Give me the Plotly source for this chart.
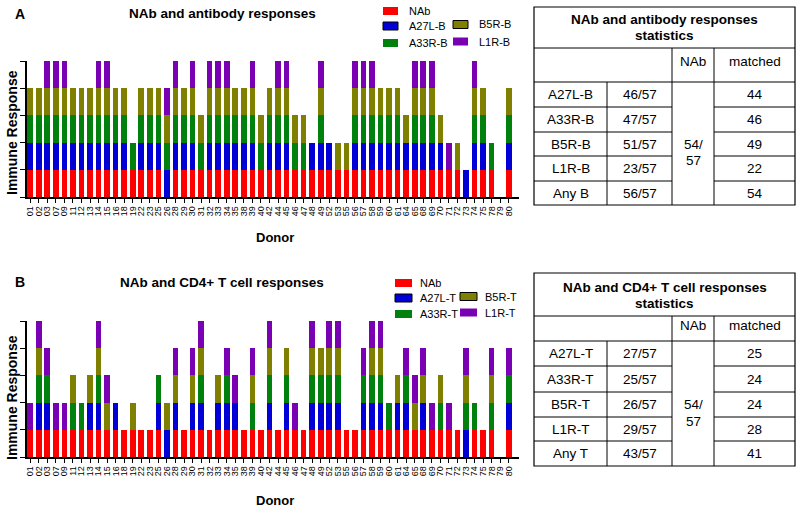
import plotly.graph_objects as go

# ---------------- data ----------------
donors = ["01","02","03","07","09","11","12","13","14","15","16","18","19","22","23","25","26","28","29","30",
          "31","32","33","34","35","38","39","40","42","44","45","46","47","48","49","52","53","55","56","57",
          "58","59","60","61","64","65","68","69","70","71","72","73","74","75","78","79","80"]

# Panel A: NAb and antibody responses (1 = response present)
a_nab  = [1,1,1,1,1,1,1,1,1,1,1,1,1,1,1,1,0,1,1,1,1,1,1,1,1,1,1,1,1,1,1,1,1,1,1,1,1,1,1,1,1,1,1,1,1,1,1,1,1,1,1,0,1,1,1,0,1]
a_a27l = [1,1,1,1,1,1,1,1,1,1,1,1,0,1,1,1,1,1,1,1,0,1,1,1,1,1,1,0,1,1,1,0,0,1,1,1,0,0,1,1,1,1,1,1,1,1,1,1,1,0,0,1,1,1,0,0,1]
a_a33r = [1,1,1,1,1,1,1,1,1,1,1,1,1,1,1,1,1,1,1,1,1,1,1,1,1,1,1,1,1,1,1,1,1,0,1,0,0,0,1,1,1,1,1,1,0,1,1,1,0,0,0,0,1,1,1,0,1]
a_b5r  = [1,1,1,1,1,1,1,1,1,1,1,1,0,1,1,1,1,1,1,1,1,1,1,1,1,1,1,1,1,1,1,1,1,0,1,0,1,1,1,1,1,1,1,1,1,1,1,1,1,0,1,0,1,1,0,0,1]
a_l1r  = [0,0,1,1,1,0,0,0,1,1,0,0,0,0,0,0,1,1,0,1,0,1,1,1,0,0,1,0,0,1,1,0,0,0,1,0,0,0,1,1,1,0,0,0,0,1,1,1,0,1,0,0,1,0,0,0,0]

# Panel B: NAb and CD4+ T cell responses
b_nab  = [1,1,1,1,1,1,1,1,1,1,1,1,1,1,1,1,0,1,1,1,1,1,1,1,1,1,1,1,1,1,1,1,1,1,1,1,1,1,1,1,1,1,1,1,1,1,1,1,1,1,1,0,1,1,1,0,1]
b_a27l = [0,1,1,0,0,0,0,1,1,0,1,0,0,0,0,1,1,1,0,1,1,0,1,1,1,0,0,0,1,0,1,0,0,1,1,1,1,0,0,1,1,1,0,1,1,0,1,0,0,0,0,1,0,0,0,0,1]
b_a33r = [0,1,1,0,0,1,1,0,1,0,0,0,0,0,0,1,0,0,0,0,1,0,0,1,0,0,1,0,1,0,1,0,0,1,1,1,1,0,0,1,1,1,1,0,1,0,0,0,1,0,0,1,1,0,1,0,1]
b_b5r  = [0,1,0,0,0,1,0,1,1,1,0,0,1,0,0,0,1,1,0,1,1,0,1,0,0,0,1,0,1,0,1,0,0,1,1,1,1,0,0,0,1,1,0,1,0,1,1,0,1,0,0,1,0,0,1,0,0]
b_l1r  = [1,1,1,1,1,0,0,0,1,1,0,0,0,0,0,0,0,1,0,1,1,0,0,1,1,0,1,0,1,0,0,1,0,1,0,1,1,0,0,1,1,1,0,0,1,1,1,1,0,1,0,1,0,0,1,0,1]

names_a = ["NAb", "A27L-B", "A33R-B", "B5R-B", "L1R-B"]
names_b = ["NAb", "A27L-T", "A33R-T", "B5R-T", "L1R-T"]
colors = ["#FF0000", "#0000D6", "#00800C", "#808000", "#7A00B4"]

# statistics tables
tab_title_a = ["NAb and antibody responses", "statistics"]
tab_rows_a = ["A27L-B", "A33R-B", "B5R-B", "L1R-B", "Any B"]
tab_frac_a = ["46/57", "47/57", "51/57", "23/57", "56/57"]
tab_match_a = ["44", "46", "49", "22", "54"]
tab_title_b = ["NAb and CD4+ T cell responses", "statistics"]
tab_rows_b = ["A27L-T", "A33R-T", "B5R-T", "L1R-T", "Any T"]
tab_frac_b = ["27/57", "25/57", "26/57", "29/57", "43/57"]
tab_match_b = ["25", "24", "24", "28", "41"]
nab_total = ["54/", "57"]

W, H = 800, 509
FONT = "Liberation Sans, Arial, Helvetica, sans-serif"


def px(x):
    return x / W


def py(y):
    return 1 - y / H


fig = go.Figure()
series_a = [a_nab, a_a27l, a_a33r, a_b5r, a_l1r]
series_b = [b_nab, b_a27l, b_a33r, b_b5r, b_l1r]
for name, vals, col in zip(names_a, series_a, colors):
    fig.add_trace(go.Bar(x=donors, y=vals, name=name, marker=dict(color=col, line=dict(width=0)),
                         xaxis="x", yaxis="y", showlegend=False))
for name, vals, col in zip(names_b, series_b, colors):
    fig.add_trace(go.Bar(x=donors, y=vals, name=name, marker=dict(color=col, line=dict(width=0)),
                         xaxis="x2", yaxis="y2", showlegend=False))


def xax(anchor):
    return dict(domain=[px(26.5), px(519)], range=[-0.43, 57.2], type="category", anchor=anchor,
                tickmode="array", tickvals=donors, ticktext=donors,
                tickangle=-90, ticks="outside", ticklen=4, tickwidth=1, tickcolor="black",
                showline=True, linecolor="black", linewidth=1.5, showgrid=False, zeroline=False,
                tickfont=dict(family=FONT, size=9, color="black"), automargin=False)


def yax(anchor, y0, y1):
    return dict(domain=[py(y0), py(y1)], range=[0, 5], anchor=anchor, tickvals=[0, 1, 2, 3, 4, 5],
                ticks="outside", ticklen=5, tickwidth=1.2, tickcolor="black", showticklabels=False,
                showline=True, linecolor="black", linewidth=1.5, showgrid=False, zeroline=False,
                automargin=False)


shapes = []
ann = []


def text(x, y, s, size, bold=False, angle=0, xanchor="center"):
    ann.append(dict(x=px(x), y=py(y), xref="paper", yref="paper", text=("<b>%s</b>" % s) if bold else s,
                    showarrow=False, xanchor=xanchor, yanchor="middle", textangle=angle,
                    font=dict(family=FONT, size=size, color="black")))


def rect(x0, y0, x1, y1, color, border=False):
    shapes.append(dict(type="rect", xref="paper", yref="paper", x0=px(x0), x1=px(x1), y0=py(y1), y1=py(y0),
                       fillcolor=color, line=dict(color="black" if border else color, width=1 if border else 0)))


def line(x0, y0, x1, y1, w=1):
    shapes.append(dict(type="line", xref="paper", yref="paper", x0=px(x0), x1=px(x1), y0=py(y0), y1=py(y1),
                       line=dict(color="black", width=w)))


# panel labels, titles, axis titles
for lab, ttl, ytop, ymid, ydonor in [("A", "NAb and antibody responses", 14, 133, 237),
                                     ("B", "NAb and CD4+ T cell responses", 282, 398, 500)]:
    text(20, ytop, lab, 14, bold=True)
    text(222, ytop, ttl, 13.5, bold=True)
    text(12, ymid, "Immune Response", 14, bold=True, angle=-90)
    text(275, ydonor, "Donor", 13, bold=True)


# legends
def legend(names, nab_xy, c1_x, c2_x, rows_y, sw_w, txt_dx):
    rect(nab_xy[0], nab_xy[1] - 4, nab_xy[0] + sw_w, nab_xy[1] + 4, colors[0])
    text(nab_xy[0] + txt_dx, nab_xy[1], names[0], 11, xanchor="left")
    items = [(c1_x, rows_y[0], 1), (c1_x, rows_y[1], 2), (c2_x, rows_y[0] - 1.5, 3), (c2_x, rows_y[1] - 1.5, 4)]
    for x, y, k in items:
        rect(x, y - 4, x + sw_w, y + 4, colors[k], border=(k in (1, 3)))
        text(x + txt_dx, y, names[k], 11, xanchor="left")


legend(names_a, (383, 11), 383, 453, (26, 43), 15, 24)
legend(names_b, (395, 283), 395, 460, (298, 314), 17, 23)


# tables
def table(top, ttl_y, hdr_top, hdr_bot, row_lines, title, rows, fracs, matches):
    L, R, c1, c2, c3 = 534, 795, 607, 672, 714
    bottom = row_lines[-1]
    shapes.append(dict(type="rect", xref="paper", yref="paper", x0=px(L), x1=px(R), y0=py(bottom), y1=py(top),
                       line=dict(color="black", width=1.2)))
    line(L, hdr_top, R, hdr_top)
    line(L, hdr_bot, R, hdr_bot)
    for yl in row_lines[:-1]:
        line(L, yl, c2, yl)
        line(c3, yl, R, yl)
    line(c1, hdr_bot, c1, bottom)
    line(c2, hdr_top, c2, bottom)
    line(c3, hdr_top, c3, bottom)
    text((L + R) / 2, ttl_y[0], title[0], 13.5, bold=True)
    text((L + R) / 2, ttl_y[1], title[1], 13.5, bold=True)
    hy = (hdr_top + hdr_bot) / 2 - 3
    text((c2 + c3) / 2, hy, "NAb", 13.5)
    text((c3 + R) / 2, hy, "matched", 13.5)
    edges = [hdr_bot] + row_lines
    for i in range(5):
        yc = (edges[i] + edges[i + 1]) / 2
        text((L + c1) / 2, yc, rows[i], 13.5)
        text((c1 + c2) / 2, yc, fracs[i], 13.5)
        text((c3 + R) / 2, yc, matches[i], 13.5)
    ym = (edges[2] + edges[3]) / 2
    text((c2 + c3) / 2, ym, nab_total[0], 13.5)
    text((c2 + c3) / 2, ym + 16.5, nab_total[1], 13.5)


table(7, (20, 35), 48, 82, [107, 132, 156, 181, 205], tab_title_a, tab_rows_a, tab_frac_a, tab_match_a)
table(273, (287, 303), 316, 341, [366, 392, 417, 441, 466], tab_title_b, tab_rows_b, tab_frac_b, tab_match_b)

fig.update_layout(
    width=W, height=H, margin=dict(l=0, r=0, t=0, b=0),
    paper_bgcolor="white", plot_bgcolor="white",
    barmode="stack", bargap=0.34, showlegend=False,
    xaxis=xax("y"), yaxis=yax("x", 197, 61),
    xaxis2=xax("y2"), yaxis2=yax("x2", 457, 321),
    shapes=shapes, annotations=ann,
    font=dict(family=FONT, color="black"),
)

fig.write_html("out.html", config={"displayModeBar": False},
               post_script="document.body.style.margin='0';document.body.style.overflow='hidden';")
